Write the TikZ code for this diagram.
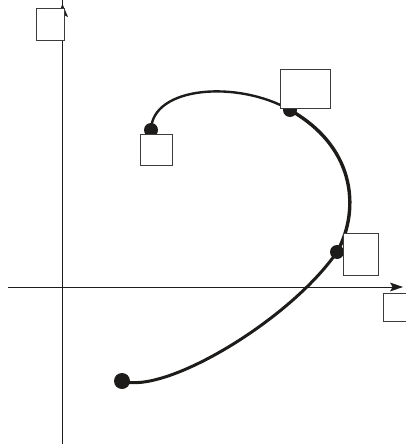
\documentclass[tikz,border=0pt]{standalone}
\usepackage{xcolor}
\usepackage{tikz}
\definecolor{trjink}{RGB}{30,28,26}
\definecolor{trjframe}{RGB}{60,60,60}

\begin{document}
\begin{tikzpicture}[x=1pt,y=-1pt,
  axisline/.style={draw=trjink,line width=1pt},
  tip/.style={fill=trjink},
  lab/.style={rectangle,draw=trjframe,fill=white,line width=1pt,inner sep=0pt},
  pt/.style={circle,fill=trjink,inner sep=0pt},
  curve/.style={draw=trjink,line cap=round}
]
\useasboundingbox (0,0) rectangle (406,444);
% axes
\coordinate (xs) at (8,287);
\coordinate (xe) at (403,287);
\coordinate (ys) at (62.5,444);
\coordinate (ye) at (62.5,4);
\draw[axisline] (xs) -- ([xshift=-6pt]xe);
\draw[axisline] (ys) -- ([yshift=6pt]ye);
\fill[tip] (xe) -- ++(-13,-4.5) -- ++(2.5,4.5) -- ++(-2.5,4.5) -- cycle;
\fill[tip] (ye) -- ++(5.5,13) -- ++(-5.5,-2.5) -- ++(-5.5,2.5) -- cycle;

% points on the trajectory
\node[pt,minimum size=16pt] (p0) at (122,381) {};
\node[pt,minimum size=14pt] (p1) at (337,252) {};
\node[pt,minimum size=14pt] (p2) at (290,110) {};
\node[pt,minimum size=14pt] (p3) at (151,130) {};

\draw[curve,line width=3pt] (p0.center) .. controls (165,395) and (290,320) .. (p1.center);
\draw[curve,line width=3.4pt] (p1.center) .. controls (358,215) and (360,150) .. (p2.center);
\draw[curve,line width=2.4pt] (p2.center) .. controls (238,80) and (152,86) .. (p3.center);

% label boxes
\node[lab,minimum width=28pt,minimum height=32pt] (ylab) at (50,25) {};
\node[lab,minimum width=50pt,minimum height=39pt] (l2) at (305,88.5) {};
\node[lab,minimum width=32pt,minimum height=31pt] (l3) at (156,149.5) {};
\node[lab,minimum width=35pt,minimum height=42pt] (l1) at (360.5,254) {};
\node[lab,minimum width=28pt,minimum height=28pt] (xlab) at (397,307) {};
\end{tikzpicture}
\end{document}
